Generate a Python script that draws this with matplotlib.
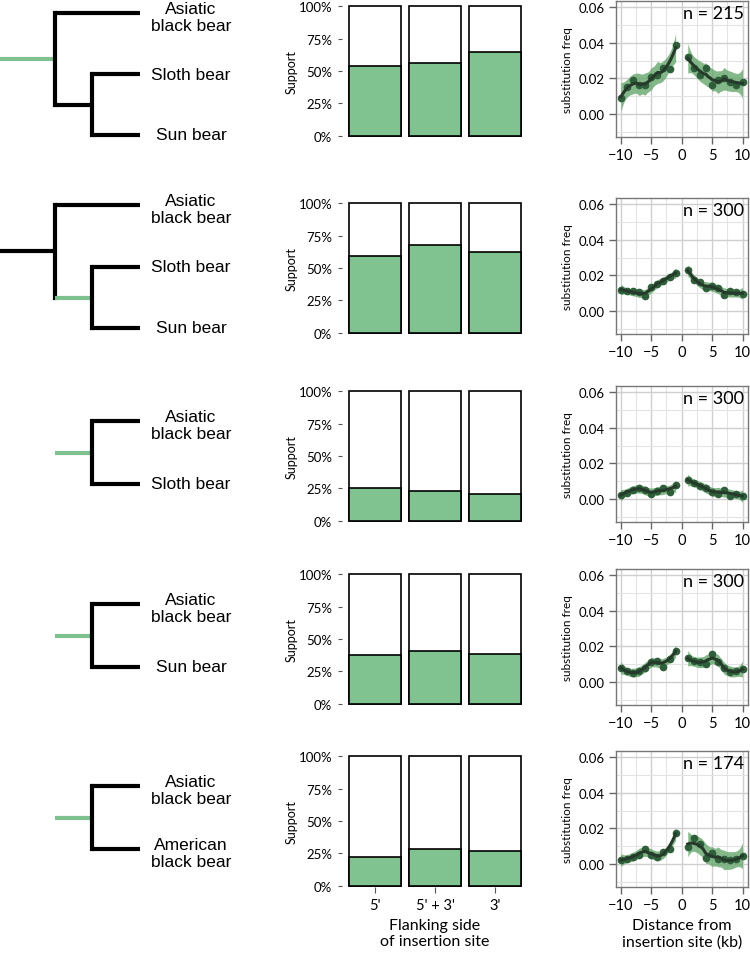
import numpy as np
import matplotlib
matplotlib.use("Agg")
import matplotlib.pyplot as plt
from matplotlib.ticker import FixedLocator

# ---------------- data ----------------
bar_categories = ["5'", "5' + 3'", "3'"]
support_p1 = [0.54, 0.56, 0.645]
support_p2 = [0.59, 0.675, 0.625]
support_p3 = [0.25, 0.23, 0.205]
support_p4 = [0.375, 0.405, 0.385]
support_p5 = [0.225, 0.28, 0.265]

distance_kb = [-10, -9, -8, -7, -6, -5, -4, -3, -2, -1, 1, 2, 3, 4, 5, 6, 7, 8, 9, 10]
subst_p1 = [0.009, 0.015, 0.019, 0.016, 0.016, 0.021, 0.022, 0.026, 0.025, 0.039,
            0.032, 0.026, 0.022, 0.026, 0.016, 0.019, 0.020, 0.018, 0.016, 0.018]
subst_p2 = [0.012, 0.011, 0.011, 0.0105, 0.0085, 0.0135, 0.015, 0.017, 0.019, 0.0215,
            0.023, 0.0175, 0.016, 0.013, 0.014, 0.013, 0.009, 0.011, 0.0105, 0.0095]
subst_p3 = [0.0023, 0.0035, 0.005, 0.006, 0.005, 0.003, 0.0045, 0.006, 0.004, 0.0077,
            0.0106, 0.009, 0.0075, 0.006, 0.004, 0.003, 0.0052, 0.0015, 0.003, 0.0015]
subst_p4 = [0.0079, 0.006, 0.005, 0.006, 0.008, 0.0112, 0.012, 0.0086, 0.013, 0.0176,
            0.0133, 0.0116, 0.011, 0.010, 0.0157, 0.011, 0.008, 0.0054, 0.006, 0.0071]
subst_p5 = [0.0024, 0.0025, 0.004, 0.005, 0.0086, 0.005, 0.004, 0.0067, 0.0086, 0.0174,
            0.0095, 0.0148, 0.0114, 0.0032, 0.0062, 0.003, 0.0025, 0.002, 0.0025, 0.0047]
n_loci = [215, 300, 300, 300, 174]

tree_tips = [
    ["Asiatic\nblack bear", "Sloth bear", "Sun bear"],
    ["Asiatic\nblack bear", "Sloth bear", "Sun bear"],
    ["Asiatic\nblack bear", "Sloth bear"],
    ["Asiatic\nblack bear", "Sun bear"],
    ["Asiatic\nblack bear", "American\nblack bear"],
]
tree_highlight = ["root", "inner", "pair", "pair", "pair"]

supports = [support_p1, support_p2, support_p3, support_p4, support_p5]
substs = [subst_p1, subst_p2, subst_p3, subst_p4, subst_p5]

# ---------------- style ----------------
GREEN_BAR = "#80c290"
GREEN_TREE = "#7fc08f"
RIBBON = "#66a66c"
POINT = "#2f5e3b"
LINE = "#263a2b"
AX_FONT = ["Lato", "DejaVu Sans"]
TREE_FONT = ["Liberation Sans", "DejaVu Sans"]

W, H = 750, 954
fig = plt.figure(figsize=(W / 100, H / 100), dpi=100)


def px_rect(l, t, w, h):
    return [l / W, 1 - (t + h) / H, w / W, h / H]


def loess(x, y, xs, span=0.75):
    x = np.asarray(x, float)
    y = np.asarray(y, float)
    n = len(x)
    q = int(np.floor(n * span))

    def lvec(x0):
        d = np.abs(x - x0)
        h = np.sort(d)[q - 1] * 1.0001
        w = np.clip(1 - (d / h) ** 3, 0, None) ** 3
        X = np.vstack([np.ones(n), x - x0, (x - x0) ** 2]).T
        XtW = X.T * w
        A = np.linalg.pinv(XtW @ X) @ XtW
        return A[0]

    L = np.array([lvec(x0) for x0 in x])
    res = y - L @ y
    df = n - np.trace(L)
    sigma = np.sqrt(np.sum(res ** 2) / max(df, 1))
    Ls = np.array([lvec(x0) for x0 in xs])
    fit = Ls @ y
    se = sigma * np.sqrt(np.sum(Ls ** 2, axis=1))
    return fit, se


row_tops = [2, 199, 387, 570, 752]
sc_h = 136

# tree overlay axes
tax = fig.add_axes([0, 0, 1, 1])
tax.set_xlim(0, W)
tax.set_ylim(H, 0)
tax.axis("off")
tax.set_zorder(-1)

x_root, x_inner, x_tip, x_label = 55, 92, 140, 191
lw_tree = 3.0

for i, (tips, hl) in enumerate(zip(tree_tips, tree_highlight)):
    T = row_tops[i]
    if len(tips) == 3:
        ty = [T + 12, T + 73, T + 134] if i == 0 else [T + 7, T + 69, T + 130]
        inner_y = (ty[1] + ty[2]) / 2
        root_y = (ty[0] + inner_y) / 2
        tax.plot([0, x_root], [root_y, root_y], color=GREEN_TREE if hl == "root" else "black",
                 lw=lw_tree, solid_capstyle="butt")
        tax.plot([x_root, x_root], [ty[0], inner_y], color="black", lw=lw_tree, solid_capstyle="projecting")
        tax.plot([x_root, x_tip], [ty[0], ty[0]], color="black", lw=lw_tree, solid_capstyle="butt")
        tax.plot([x_root, x_inner], [inner_y, inner_y], color=GREEN_TREE if hl == "inner" else "black",
                 lw=lw_tree, solid_capstyle="butt")
        tax.plot([x_inner, x_inner], [ty[1], ty[2]], color="black", lw=lw_tree, solid_capstyle="projecting")
        for yy in ty[1:]:
            tax.plot([x_inner, x_tip], [yy, yy], color="black", lw=lw_tree, solid_capstyle="butt")
    else:
        ty = [T + 35, T + 98]
        mid = (ty[0] + ty[1]) / 2
        tax.plot([x_root, x_inner], [mid, mid], color=GREEN_TREE, lw=lw_tree, solid_capstyle="butt")
        tax.plot([x_inner, x_inner], [ty[0], ty[1]], color="black", lw=lw_tree, solid_capstyle="projecting")
        for yy in ty:
            tax.plot([x_inner, x_tip], [yy, yy], color="black", lw=lw_tree, solid_capstyle="butt")
    for lab, yy in zip(tips, ty):
        off = 4 if "\n" in lab else 0
        tax.text(x_label, yy + off, lab, ha="center", va="center", fontsize=12.5,
                 family=TREE_FONT, linespacing=1.2)

# bar panels
for i in range(5):
    T = row_tops[i]
    ax = fig.add_axes(px_rect(342, T + 4, 186, sc_h - 4))
    vals = supports[i]
    xs = np.arange(len(bar_categories))
    ax.bar(xs, [1.0] * len(vals), width=0.87, color="white", edgecolor="black", lw=1.2, zorder=2)
    ax.bar(xs, vals, width=0.87, color=GREEN_BAR, edgecolor="black", lw=1.2, zorder=3)
    ax.set_xlim(-0.55, 2.55)
    ax.set_ylim(-0.01, 1.01)
    for s in ax.spines.values():
        s.set_visible(False)
    ax.set_yticks([0, 0.25, 0.5, 0.75, 1.0])
    ax.set_yticklabels(["0%", "25%", "50%", "75%", "100%"], family=AX_FONT, fontsize=9.5)
    ax.tick_params(axis="y", length=3, width=0.8, color="#555555", pad=4)
    ax.set_ylabel("Support", family=AX_FONT, fontsize=9, labelpad=1)
    if i == 4:
        ax.set_xticks(xs)
        ax.set_xticklabels(bar_categories, family=AX_FONT, fontsize=10.5)
        ax.tick_params(axis="x", length=4, width=0.8, color="#555555", pad=4)
        ax.set_xlabel("Flanking side\nof insertion site", family=AX_FONT, fontsize=11.5, labelpad=4)
    else:
        ax.set_xticks([])

# scatter / smooth panels
dist = np.array(distance_kb)
for i in range(5):
    T = row_tops[i]
    ax = fig.add_axes(px_rect(616, T, 132, sc_h))
    y = np.array(substs[i])
    ax.set_xlim(-10.8, 10.9)
    ax.set_ylim(-0.013, 0.0635)
    ax.xaxis.set_major_locator(FixedLocator([-10, -5, 0, 5, 10]))
    ax.xaxis.set_minor_locator(FixedLocator([-7.5, -2.5, 2.5, 7.5]))
    ax.yaxis.set_major_locator(FixedLocator([0, 0.02, 0.04, 0.06]))
    ax.yaxis.set_minor_locator(FixedLocator([-0.01, 0.01, 0.03, 0.05]))
    ax.grid(which="major", color="#cfcfcf", lw=1.0, zorder=0)
    ax.grid(which="minor", color="#e3e3e3", lw=0.8, zorder=0)
    ax.set_axisbelow(True)
    for side_mask in (dist < 0, dist > 0):
        xx = dist[side_mask]
        yy = y[side_mask]
        grid = np.linspace(xx.min(), xx.max(), 80)
        fit, se = loess(xx, yy, grid)
        ax.fill_between(grid, fit - 3.2 * se, fit + 3.2 * se, color=RIBBON, alpha=0.8, lw=0, zorder=2)
        ax.plot(xx, yy, "o", color=POINT, ms=4.5, zorder=3)
        ax.plot(grid, fit, color=LINE, lw=2.2, zorder=4)
    ax.set_yticklabels(["0.00", "0.02", "0.04", "0.06"], family=AX_FONT, fontsize=9.5)
    ax.set_xticklabels(["\u221210", "\u22125", "0", "5", "10"], family=AX_FONT, fontsize=10.5)
    ax.tick_params(which="major", length=5, width=1.0, color="#666666", pad=3)
    ax.tick_params(which="minor", length=0)
    for s in ax.spines.values():
        s.set_color("#777777")
        s.set_linewidth(1.0)
    ax.set_ylabel("substitution freq", family=AX_FONT, fontsize=8.5, labelpad=4)
    ax.text(0.97, 0.97, f"n = {n_loci[i]}", transform=ax.transAxes, ha="right", va="top",
            family=AX_FONT, fontsize=13)
    if i == 4:
        ax.set_xlabel("Distance from\ninsertion site (kb)", family=AX_FONT, fontsize=11.5, labelpad=4)

fig.savefig("out.png", dpi=100)
